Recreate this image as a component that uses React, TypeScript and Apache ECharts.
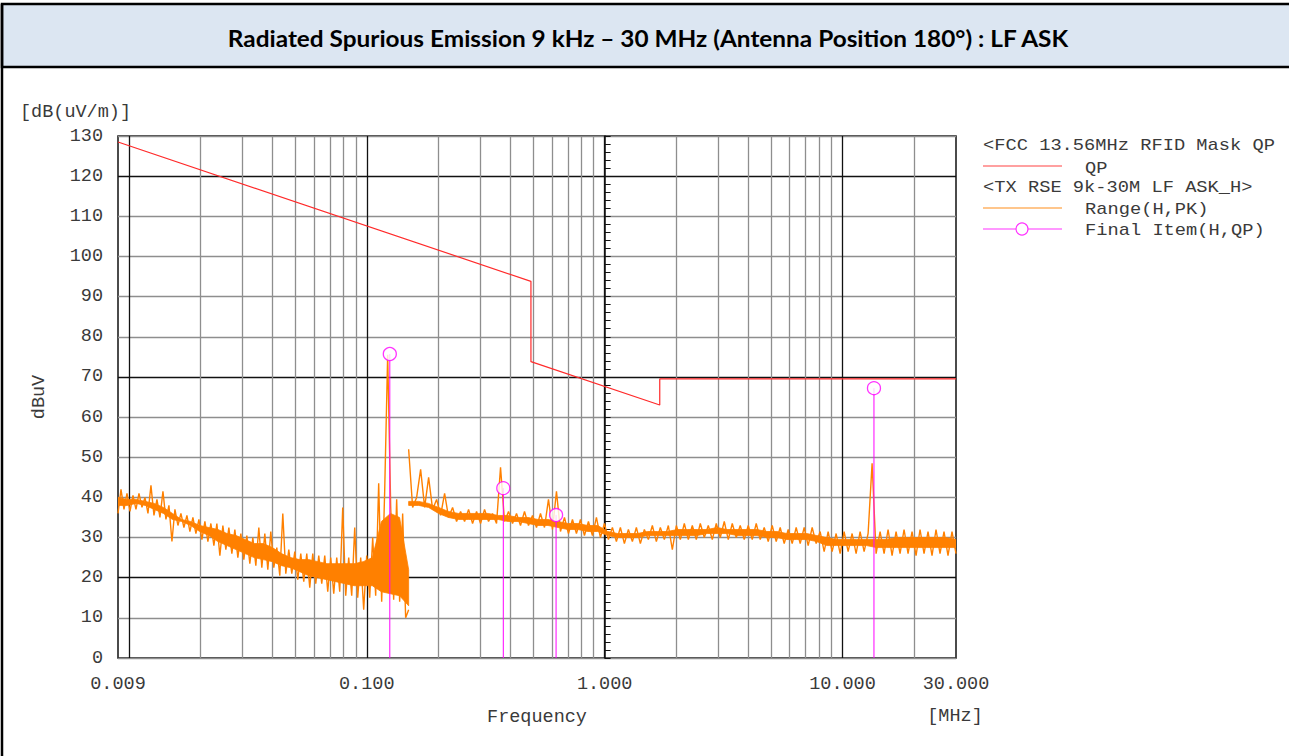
import React, { useEffect, useRef } from "react";
import * as echarts from "echarts";

const TITLE = "Radiated Spurious Emission 9 kHz \u2013 30 MHz (Antenna Position 180\u00b0) : LF ASK";

// axis
const xMinMHz = 0.009;
const xMaxMHz = 30;
const xLabelFreqs = [0.009, 0.1, 1, 10, 30];
const xGridFreqs = [
  0.01, 0.02, 0.03, 0.04, 0.05, 0.06, 0.07, 0.08, 0.09,
  0.1, 0.2, 0.3, 0.4, 0.5, 0.6, 0.7, 0.8, 0.9,
  1, 2, 3, 4, 5, 6, 7, 8, 9,
  10, 20,
];
const yMin = 0;
const yMax = 130;
const yStep = 10;

// FCC 13.56MHz RFID mask (QP)
const limitFreq = [0.009, 0.49, 0.49, 1.705, 1.705, 30];
const limitLevel = [128.5, 93.8, 73.8, 63.0, 69.5, 69.5];

// Final items (H, QP)
const finalFreq = [0.125, 0.375, 0.625, 13.56];
const finalLevel = [75.7, 42.3, 35.6, 67.2];

// Range (H, PK) trace, sweep 1 : 9 kHz - 150 kHz
const sweep1Start = 0.009;
const sweep1Stop = 0.15;
const trace1 = [
  36, 42, 37, 41, 36.5, 40.5, 37, 41, 37.5, 40,
  36, 43, 35.5, 39.5, 35, 41.5, 34.5, 38, 29, 37,
  33, 36, 32.5, 35.5, 31.5, 35, 31, 34.5, 29.5, 34,
  29, 33.5, 28, 33.5, 25.5, 33, 27, 32.5, 26, 32,
  25, 31, 24.5, 30.5, 23.5, 30, 23, 32.5, 22.5, 31,
  22, 31.5, 22.5, 27.5, 20.5, 36, 21, 27, 21, 26.5,
  19.5, 26, 19, 26, 17.5, 26, 18.5, 25.5, 18.5, 25.5,
  16.5, 25, 16, 25, 16.5, 37.5, 15.5, 25, 15.5, 32.5,
  15, 25, 12, 25.5, 15, 30, 15.5, 43.5, 14, 41.5,
  75.5, 38, 14.5, 39.5, 14, 36, 10, 12,
];
// core of the noise band of sweep 1 (lower / upper edge)
const band1Low = [
  38, 38, 38.5, 38, 37, 36, 34.5, 34, 33, 31.5,
  30.5, 29, 28, 27, 26, 25, 24.5, 24, 23, 22.5,
  21.5, 20.5, 20, 19.5, 19, 18.5, 18, 18, 18, 16.5,
  16, 15.5, 13,
];
const band1High = [
  40, 39.5, 39.5, 39, 38.5, 37.5, 36, 34.5, 34, 33,
  32.5, 32, 31, 30.5, 29.5, 28.5, 28.5, 27.5, 26, 25,
  24.5, 24.5, 24, 23.5, 23.5, 23.5, 23.5, 24, 25, 34,
  36, 35, 22,
];

// sweep 2 : 150 kHz - 30 MHz
const sweep2Start = 0.15;
const sweep2Stop = 30;
const trace2 = [
  52, 37.5, 40, 47, 37.5, 45, 37, 39.5, 35.5, 41,
  35, 37.5, 34, 36.5, 34, 37, 33.5, 36.5, 33.5, 37,
  34, 36, 33.5, 47.5, 34, 36.5, 33.5, 36, 33, 36.5,
  33, 35.5, 32.5, 36, 32.5, 39.5, 32, 41.5, 31.5, 35,
  31, 34.5, 31, 34.5, 30.5, 34, 30.5, 35, 30, 33.5,
  29.5, 32.5, 29, 32.5, 28.5, 32, 29, 32.5, 28.5, 32,
  29.5, 33, 29, 32.5, 29.5, 33, 27, 33, 29.5, 33.5,
  29.5, 33, 29.5, 33.5, 30, 33, 29.5, 33.5, 30, 34,
  29.5, 33.5, 30, 33, 29.5, 33, 29.5, 33.5, 29.5, 32.5,
  29, 33, 29, 32.5, 28.5, 32, 28.5, 32.5, 28.5, 32.5,
  28, 32.5, 28.5, 31.5, 26.5, 31.5, 26.5, 31, 26, 31.5,
  26.5, 31, 26, 31.5, 26.5, 31, 48.5, 26, 31.5, 26,
  32, 25.5, 31.5, 26, 32, 26, 31.5, 25.5, 32, 26,
  31.5, 25.5, 32, 26, 31.5, 25.5, 31.5, 26,
];
const band2Low = [
  38, 38, 37.5, 36, 35, 34.5, 34.5, 34.5, 34.5, 34.5,
  34, 34, 33.5, 33, 33, 32.5, 32, 32, 31.5, 31.5,
  30.5, 30, 30, 30, 30.5, 30.5, 30.5, 30.5, 30.5, 30.5,
  31, 31, 31, 30.5, 30.5, 30.5, 30, 30, 29.5, 29.5,
  29.5, 29, 28, 28, 28, 28, 28, 27.5, 27.5, 27.5,
  27.5, 27.5, 27.5, 27.5, 27.5, 27.5,
];
const band2High = [
  39, 39, 38.5, 37.5, 36.5, 36, 36, 36, 36, 35.5,
  35.5, 35, 35, 34.5, 34.5, 34, 33.5, 33.5, 33, 33,
  31.5, 31, 31, 31, 31.5, 31.5, 31.5, 32, 32, 32,
  32, 32.5, 32, 32, 32, 32, 31.5, 31.5, 31, 31,
  31, 30.5, 30, 29.5, 29.5, 29.5, 29.5, 29.5, 29.5, 30,
  30, 30, 30, 30, 30, 29.5,
];

const legendItems = [
  { head: "<FCC 13.56MHz RFID Mask QP", label: "QP", color: "#ff8080" },
  { head: "<TX RSE 9k-30M LF ASK_H>", label: "Range(H,PK)", color: "#ffb366" },
  { head: "", label: "Final Item(H,QP)", color: "#ff33ff" },
];

const L = (f: number) => Math.log10(f);

function sweepData(start: number, stop: number, values: number[]) {
  const a = L(start);
  const b = L(stop);
  const n = values.length;
  return values.map((v, i) => [a + ((b - a) * i) / (n - 1), v]);
}

const MONO = "'Liberation Mono', 'DejaVu Sans Mono', monospace";
const TXT = "#3a3a3a";
const ORANGE = "#ff8000";

function bandSeries(start: number, stop: number, low: number[], high: number[]) {
  const lo = sweepData(start, stop, low);
  const hi = sweepData(start, stop, high);
  return {
    type: "custom",
    data: [[lo[0][0], lo[0][1]]],
    encode: { x: 0, y: 1 },
    clip: true,
    silent: true,
    z: 2,
    renderItem: (params: any, api: any) => {
      const pts: number[][] = [];
      for (let i = 0; i < hi.length; i++) pts.push(api.coord(hi[i]));
      for (let i = lo.length - 1; i >= 0; i--) pts.push(api.coord(lo[i]));
      return {
        type: "polygon",
        shape: { points: pts },
        style: { fill: ORANGE, stroke: ORANGE, lineWidth: 0.8 },
      };
    },
  };
}

export default function App() {
  const ref = useRef<HTMLDivElement>(null);

  useEffect(() => {
    if (!ref.current) return;
    const chart = echarts.init(ref.current, undefined, { renderer: "svg" });

    const gray = "#8e8e8e";
    const black = "#111";
    const xColors = [black, gray, gray, gray, gray, gray, gray, gray, gray];
    const yColors = [gray, gray, black, gray, gray];

    const stems = finalFreq.map((f, i) => ({
      type: "line",
      data: [
        [L(f), 0],
        [L(f), finalLevel[i]],
      ],
      symbol: "none",
      lineStyle: { color: "#ff00ff", width: 1 },
      z: 4,
      silent: true,
    }));

    // legend graphics
    const lg: any[] = [];
    const lx = 983;
    const tx = 1085;
    const sx = 1.17;
    const mk = (text: string, x: number, y: number) => ({
      type: "text",
      x,
      y,
      scaleX: sx,
      style: {
        text,
        fontFamily: MONO,
        fontSize: 16,
        fill: TXT,
        textAlign: "left",
        textVerticalAlign: "middle",
      },
    });
    lg.push(mk(legendItems[0].head, lx, 146));
    lg.push({ type: "line", shape: { x1: lx, y1: 166, x2: 1062, y2: 166 }, style: { stroke: legendItems[0].color, lineWidth: 1.5 } });
    lg.push(mk(legendItems[0].label, tx, 169));
    lg.push(mk(legendItems[1].head, lx, 188));
    lg.push({ type: "line", shape: { x1: lx, y1: 208, x2: 1062, y2: 208 }, style: { stroke: legendItems[1].color, lineWidth: 1.5 } });
    lg.push(mk(legendItems[1].label, tx, 210));
    lg.push({ type: "line", shape: { x1: lx, y1: 229, x2: 1062, y2: 229 }, style: { stroke: legendItems[2].color, lineWidth: 1.2 } });
    lg.push({ type: "circle", shape: { cx: 1022, cy: 229, r: 6 }, style: { fill: "#fff", stroke: legendItems[2].color, lineWidth: 1.2 } });
    lg.push(mk(legendItems[2].label, tx, 231));

    const option: any = {
      animation: false,
      backgroundColor: "#fff",
      grid: {
        left: 118,
        right: 333,
        top: 136,
        bottom: 98,
        show: true,
        borderColor: "#111",
        borderWidth: 1.5,
        backgroundColor: "transparent",
      },
      xAxis: {
        type: "value",
        min: L(xMinMHz),
        max: L(xMaxMHz),
        axisLine: { show: false },
        axisTick: { show: false, customValues: xGridFreqs.map(L) },
        splitLine: { show: true, lineStyle: { color: xColors, width: 1.3 } },
        axisLabel: {
          customValues: xLabelFreqs.map(L),
          formatter: (v: number) => Math.pow(10, v).toFixed(3),
          fontFamily: MONO,
          fontSize: 18.5,
          color: TXT,
          margin: 17,
        },
        name: "Frequency",
        nameLocation: "middle",
        nameGap: 50,
        nameTextStyle: { fontFamily: MONO, fontSize: 18.5, color: TXT },
      },
      yAxis: {
        type: "value",
        min: yMin,
        max: yMax,
        interval: yStep,
        axisLine: { show: true, lineStyle: { color: "#111", width: 1.5 } },
        axisTick: { show: true, inside: true, length: 6, lineStyle: { color: "#111" } },
        minorTick: { show: true, splitNumber: 5, length: 6, lineStyle: { color: "#111" } },
        splitLine: { show: true, lineStyle: { color: yColors, width: 1.3 } },
        axisLabel: { fontFamily: MONO, fontSize: 18.5, color: TXT, margin: 15 },
        name: "dBuV",
        nameLocation: "middle",
        nameGap: 69,
        nameRotate: 90,
        nameTextStyle: { fontFamily: MONO, fontSize: 18.5, color: TXT },
      },
      series: [
        bandSeries(sweep1Start, sweep1Stop, band1Low, band1High),
        bandSeries(sweep2Start, sweep2Stop, band2Low, band2High),
        {
          type: "line",
          data: sweepData(sweep1Start, sweep1Stop, trace1),
          symbol: "none",
          lineStyle: { color: ORANGE, width: 1.4 },
          z: 2,
          silent: true,
        },
        {
          type: "line",
          data: sweepData(sweep2Start, sweep2Stop, trace2),
          symbol: "none",
          lineStyle: { color: ORANGE, width: 1.4 },
          z: 2,
          silent: true,
        },
        {
          type: "line",
          data: limitFreq.map((f, i) => [L(f), limitLevel[i]]),
          symbol: "none",
          lineStyle: { color: "#ff2a2a", width: 1.2 },
          z: 3,
          silent: true,
        },
        ...stems,
        {
          type: "scatter",
          data: finalFreq.map((f, i) => [L(f), finalLevel[i]]),
          symbol: "circle",
          symbolSize: 13,
          itemStyle: { color: "#fff", borderColor: "#ff00ff", borderWidth: 1.3 },
          z: 5,
          silent: true,
        },
      ],
      graphic: [
        {
          type: "rect",
          shape: { x: 2, y: 4, width: 1300, height: 63 },
          style: { fill: "#dce6f2", stroke: "#000", lineWidth: 2.5 },
          silent: true,
        },
        {
          type: "line",
          shape: { x1: 2, y1: 4, x2: 2, y2: 760 },
          style: { stroke: "#000", lineWidth: 2.5 },
          silent: true,
        },
        {
          type: "text",
          x: 648,
          y: 38,
          scaleX: 1.06,
          style: {
            text: TITLE,
            fontFamily: "Lato, 'Open Sans', sans-serif",
            fontWeight: "bold",
            fontSize: 23,
            fill: "#000",
            textAlign: "center",
            textVerticalAlign: "middle",
          },
        },
        {
          type: "text",
          x: 20,
          y: 112,
          style: {
            text: "[dB(uV/m)]",
            fontFamily: MONO,
            fontSize: 18.5,
            fill: TXT,
            textAlign: "left",
            textVerticalAlign: "middle",
          },
        },
        {
          type: "text",
          x: 955,
          y: 716,
          style: {
            text: "[MHz]",
            fontFamily: MONO,
            fontSize: 18.5,
            fill: TXT,
            textAlign: "center",
            textVerticalAlign: "middle",
          },
        },
        ...lg,
      ],
    };

    chart.setOption(option);
    return () => chart.dispose();
  }, []);

  return (
    <div
      ref={ref}
      style={{ position: "absolute", left: 0, top: 0, width: 1289, height: 756 }}
    />
  );
}
